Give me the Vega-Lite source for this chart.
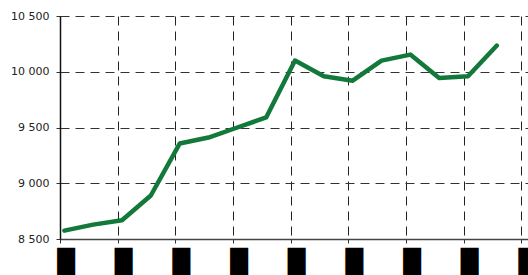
{
  "$schema": "https://vega.github.io/schema/vega-lite/v6.json",
  "width": 470,
  "height": 223,
  "autosize": {"type": "none"},
  "padding": {"left": 60, "top": 16, "right": 0, "bottom": 36},
  "background": "white",
  "config": {
    "view": {"stroke": null},
    "font": "DejaVu Sans"
  },
  "data": {
    "values": [
      {"i": 0, "v": 8575},
      {"i": 1, "v": 8629},
      {"i": 2, "v": 8668},
      {"i": 3, "v": 8890},
      {"i": 4, "v": 9356},
      {"i": 5, "v": 9410},
      {"i": 6, "v": 9500},
      {"i": 7, "v": 9590},
      {"i": 8, "v": 10100},
      {"i": 9, "v": 9959},
      {"i": 10, "v": 9920},
      {"i": 11, "v": 10100},
      {"i": 12, "v": 10154},
      {"i": 13, "v": 9944},
      {"i": 14, "v": 9959},
      {"i": 15, "v": 10235}
    ]
  },
  "mark": {"type": "line", "color": "#12793a", "strokeWidth": 4.5, "strokeCap": "round", "strokeJoin": "round"},
  "encoding": {
    "x": {
      "field": "i",
      "type": "quantitative",
      "scale": {"domain": [-0.15, 16.15], "nice": false, "zero": false},
      "axis": {
        "title": null,
        "values": [-0.15, 1.85, 3.85, 5.85, 7.85, 9.85, 11.85, 13.85, 15.85],
        "labelExpr": "'█'",
        "labelFont": "DejaVu Sans",
        "labelFontSize": 23,
        "labelColor": "black",
        "labelOffset": 5.5,
        "labelPadding": 7,
        "labelBaseline": "top",
        "labelFlush": false,
        "labelOverlap": false,
        "domainColor": "#444444",
        "domainWidth": 1.5,
        "tickColor": "#333333",
        "tickSize": 4,
        "grid": true,
        "gridColor": "#222222",
        "gridDash": [9, 6],
        "gridWidth": 1
      }
    },
    "y": {
      "field": "v",
      "type": "quantitative",
      "scale": {"domain": [8500, 10500], "nice": false, "zero": false},
      "axis": {
        "title": null,
        "values": [8500, 9000, 9500, 10000, 10500],
        "labelExpr": "replace(format(datum.value, ','), ',', ' ')",
        "labelFont": "DejaVu Sans",
        "labelFontSize": 11,
        "labelColor": "#222222",
        "labelPadding": 7,
        "domainColor": "#111111",
        "domainWidth": 1.5,
        "tickColor": "#333333",
        "tickSize": 4,
        "grid": true,
        "gridColor": "#333333",
        "gridDash": [9, 6],
        "gridWidth": 1
      }
    }
  }
}
